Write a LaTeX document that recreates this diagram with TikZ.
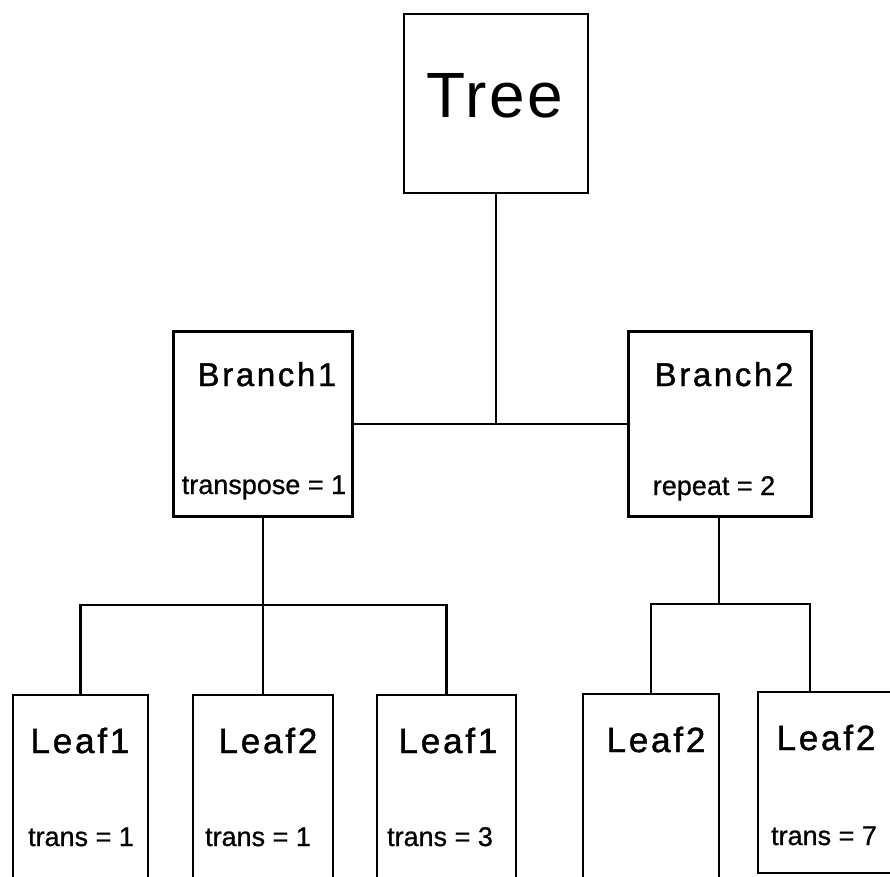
\documentclass[tikz,border=0pt]{standalone}
\usepackage{fontspec}
\setmainfont{Liberation Sans}
\newfontfamily\spacedfont[LetterSpace=8,FakeBold=1.2]{Liberation Sans}
\newfontfamily\smallfont[FakeBold=0.8]{Liberation Sans}
\newfontfamily\treefont[LetterSpace=4]{Liberation Sans}
\begin{document}
\begin{tikzpicture}[x=1pt,y=-1pt,
  box/.style={draw,line width=2.8pt,rectangle,inner sep=0pt},
  treetxt/.style={anchor=base,inner sep=0pt,font=\treefont\fontsize{64}{70}\selectfont},
  branchtxt/.style={anchor=base,inner sep=0pt,font=\spacedfont\fontsize{33}{38}\selectfont},
  leaftxt/.style={anchor=base,inner sep=0pt,font=\spacedfont\fontsize{35}{40}\selectfont},
  smalltxt/.style={anchor=base,inner sep=0pt,font=\smallfont\fontsize{27}{32}\selectfont},
  wire/.style={line width=2.8pt}]
\clip (0,0) rectangle (890,876);
\fill[white] (0,0) rectangle (890,876);
% boxes
\node[box,minimum width=184pt,minimum height=179pt] (tree) at (496,103.5) {};
\node[box,minimum width=179pt,minimum height=185pt] (b1) at (263,424) {};
\node[box,minimum width=183pt,minimum height=185pt] (b2) at (720,424) {};
\node[box,minimum width=135pt,minimum height=225pt] (l1) at (80.5,807.5) {};
\node[box,minimum width=140pt,minimum height=225pt] (l2) at (263,807.5) {};
\node[box,minimum width=139pt,minimum height=225pt] (l3) at (446.5,807.5) {};
\node[box,minimum width=136pt,minimum height=226pt] (l4) at (651,807) {};
\node[box,minimum width=162pt,minimum height=181pt] (l5) at (839,782.5) {};
% texts
\node[treetxt] (ttree) at (495,117) {Tree};
\node[branchtxt] (tb1) at (267,386) {Branch1};
\node[smalltxt] (sb1) at (264,494) {transpose = 1};
\node[branchtxt] (tb2) at (724,386) {Branch2};
\node[smalltxt] (sb2) at (714,495) {repeat = 2};
\node[leaftxt] (tl1) at (80,753) {Leaf1};
\node[smalltxt] (sl1) at (81,846) {trans = 1};
\node[leaftxt] (tl2) at (268,753) {Leaf2};
\node[smalltxt] (sl2) at (258,846) {trans = 1};
\node[leaftxt] (tl3) at (448,753) {Leaf1};
\node[smalltxt] (sl3) at (440,846) {trans = 3};
\node[leaftxt] (tl4) at (656,752) {Leaf2};
\node[leaftxt] (tl5) at (826,750) {Leaf2};
\node[smalltxt] (sl5) at (824,845) {trans = 7};
% connectors
\coordinate (j1) at (263,605);
\coordinate (j2) at (719,604);
\draw[wire] (b1.east) -- (b2.west);
\draw[wire] (tree.south) -- (tree.south |- b1.east);
\draw[wire] (b1.south) -- (j1);
\draw[wire] (l1.north) |- (j1) -| (l3.north);
\draw[wire] (j1) -- (l2.north);
\draw[wire] (b2.south -| j2) -- (j2);
\draw[wire] (l4.north) |- (j2) -| ([xshift=-29pt]l5.north);
\end{tikzpicture}
\end{document}
